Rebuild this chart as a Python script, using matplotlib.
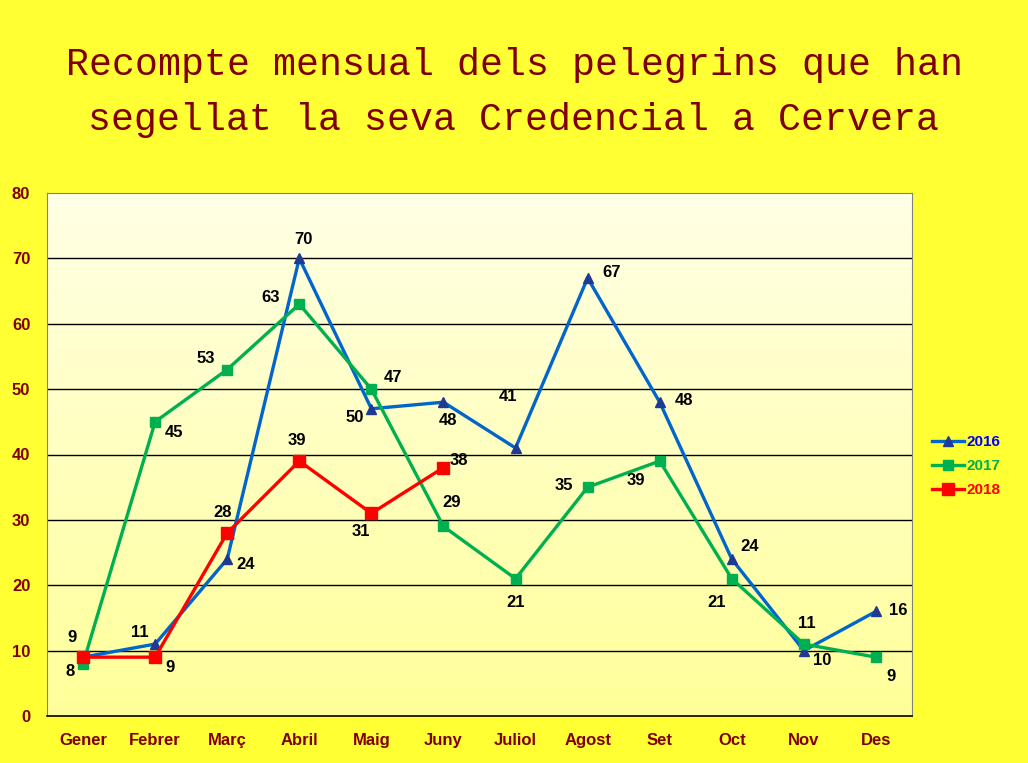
import numpy as np
import matplotlib.pyplot as plt

months = ['Gener', 'Febrer', 'Març', 'Abril', 'Maig', 'Juny', 'Juliol',
          'Agost', 'Set', 'Oct', 'Nov', 'Des']
y2016 = [9, 11, 24, 70, 47, 48, 41, 67, 48, 24, 10, 16]
y2017 = [8, 45, 53, 63, 50, 29, 21, 35, 39, 21, 11, 9]
y2018 = [9, 9, 28, 39, 31, 38]

# label offsets in pixels (dx, dy), None = no label
off2016 = [(-11, 20), (-15, 12), (18, -5), (4, 19), (22, 31), (5, -18),
           (-8, 51), (24, 5), (24, 2), (18, 13), (18, -10), (22, 1)]
off2017 = [(-13, -8), (19, -11), (-21, 11), (-29, 7), (-17, -28), (8, 24),
           (0, -24), (-24, 2), (-24, -19), (-15, -24), (3, 21), (15, -19)]
off2018 = [None, (15, -10), (-5, 20), (-2, 21), (-10, -18), (15, 7)]

fig = plt.figure(figsize=(10.28, 7.63), dpi=100)
fig.patch.set_facecolor('#FFFF33')
ax = fig.add_axes([47/1028, 47/763, 865/1028, 523/763])

# gradient background of the plot area
grad = np.linspace(0, 1, 256).reshape(-1, 1)
top = np.array([1.0, 1.0, 0.90])
bot = np.array([1.0, 1.0, 0.60])
img = top + (bot - top) * grad[:, :, None]
ax.imshow(img, extent=[-0.5, 11.5, 0, 80], aspect='auto', zorder=0)

x = np.arange(len(months))
ax.plot(x, y2016, color='#0066CC', lw=2.4, marker='^', ms=7.5,
        mfc='#1F3A93', mec='#1F3A93', label='2016', zorder=3)
ax.plot(x, y2017, color='#00B050', lw=2.4, marker='s', ms=7.5,
        mfc='#00B050', mec='#00B050', label='2017', zorder=3)
ax.plot(x[:len(y2018)], y2018, color='#FF0000', lw=2.4, marker='s', ms=9,
        mfc='#FF0000', mec='#FF0000', label='2018', zorder=4)

for vals, offs in [(y2016, off2016), (y2017, off2017), (y2018, off2018)]:
    for i, (v, o) in enumerate(zip(vals, offs)):
        if o is None:
            continue
        ax.annotate(str(v), (i, v), xytext=o, textcoords='offset pixels',
                    ha='center', va='center', fontsize=12, fontweight='bold',
                    family='Liberation Sans', color='black', zorder=5)

ax.set_xlim(-0.5, 11.5)
ax.set_ylim(0, 80)
ax.set_yticks(range(0, 81, 10))
ax.set_xticks(x)
ax.set_xticklabels(months)
for lab in ax.get_xticklabels() + ax.get_yticklabels():
    lab.set_color('#800000')
    lab.set_fontweight('bold')
    lab.set_fontsize(12)
    lab.set_family('Liberation Sans')
ax.tick_params(length=0)
ax.tick_params(axis='y', pad=12)
ax.tick_params(axis='x', pad=12)

for yy in range(10, 80, 10):
    ax.axhline(yy, color='black', lw=1, zorder=1)
for s in ['left', 'top', 'right']:
    ax.spines[s].set_color('#808080')
ax.spines['bottom'].set_color('black')
ax.spines['bottom'].set_linewidth(1.2)

leg = fig.legend(loc='center left', bbox_to_anchor=(918/1028, 1 - 466/763),
                 frameon=False, handlelength=2.1, handletextpad=0.2,
                 labelspacing=0.65,
                 prop={'family': 'Liberation Sans', 'weight': 'bold', 'size': 11},
                 labelcolor=['#0000FF', '#00B050', '#FF0000'])

fig.text(0.5, 1 - 65/763, 'Recompte mensual dels pelegrins que han',
         ha='center', va='center', fontsize=27.5, color='#800000',
         family='Liberation Mono')
fig.text(0.5, 1 - 120/763, 'segellat la seva Credencial a Cervera',
         ha='center', va='center', fontsize=27.5, color='#800000',
         family='Liberation Mono')

fig.savefig('out.png', dpi=100, facecolor=fig.get_facecolor())
